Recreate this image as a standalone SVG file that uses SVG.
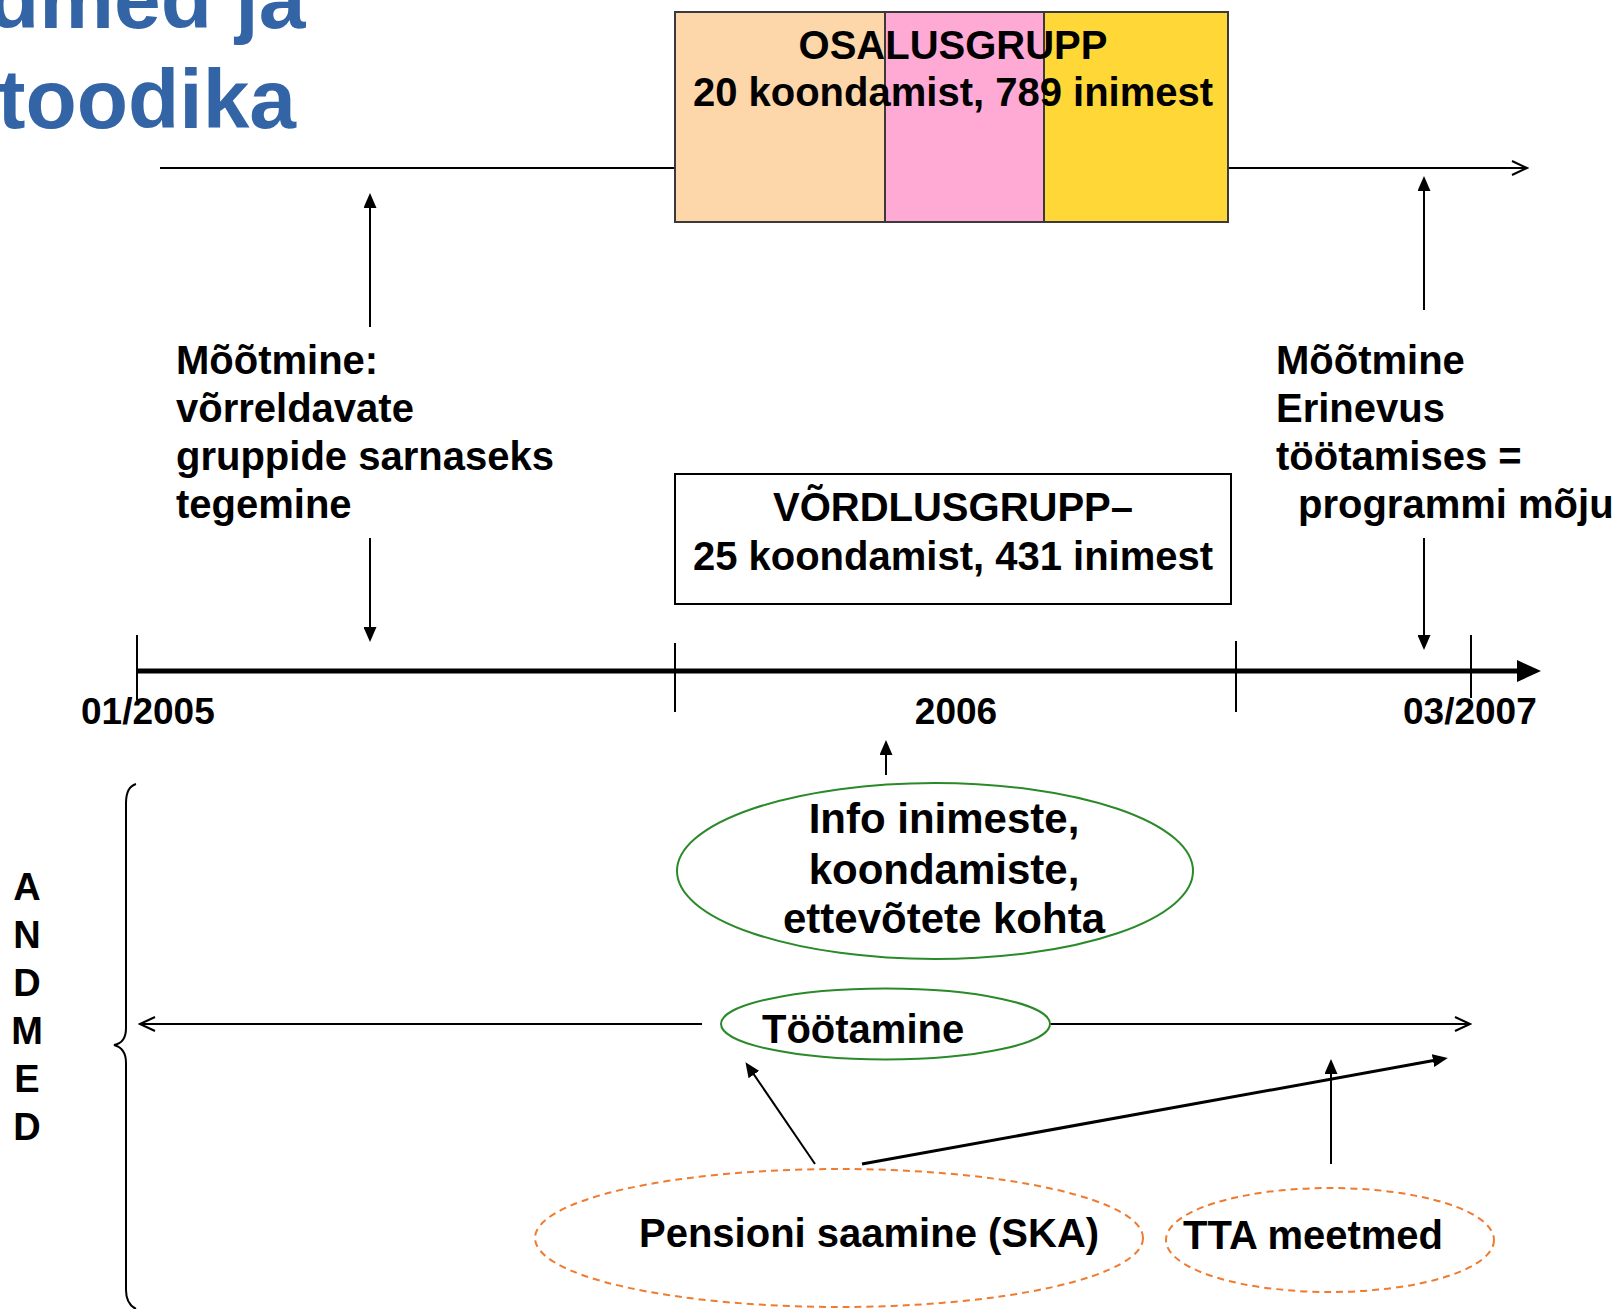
<svg xmlns="http://www.w3.org/2000/svg" width="1618" height="1309" viewBox="0 0 1618 1309">
<style>
.t{font-family:"Liberation Sans",Arial,sans-serif;font-weight:bold;fill:#000}
.f40{font-size:40px}
.f37{font-size:37px}
.f38{font-size:38px}
.f42{font-size:42px}
.mid{text-anchor:middle}
.title{font-family:"Liberation Sans",Arial,sans-serif;font-weight:bold;font-size:84px;fill:#3264A6}
.ln{stroke:#000;stroke-width:2;fill:none}
.seg{stroke:#3a3a3a;stroke-width:2}
.green{fill:none;stroke:#2A8A2A;stroke-width:2}
.orange{fill:none;stroke:#F07A2E;stroke-width:2;stroke-dasharray:7 5}
</style>
<defs>
<marker id="fa" viewBox="0 0 15 13" refX="2" refY="6.5" markerWidth="15" markerHeight="13" markerUnits="userSpaceOnUse" orient="auto">
<path d="M0,0 L15,6.5 L0,13 z" fill="#000"/>
</marker>
<marker id="big" viewBox="0 0 24 22" refX="4" refY="11" markerWidth="24" markerHeight="22" markerUnits="userSpaceOnUse" orient="auto">
<path d="M0,0 L24,11 L0,22 z" fill="#000"/>
</marker>
<marker id="open" viewBox="0 0 18 16" refX="16" refY="8" markerWidth="18" markerHeight="16" markerUnits="userSpaceOnUse" orient="auto">
<path d="M1,1 L16,8 L1,15" fill="none" stroke="#000" stroke-width="2"/>
</marker>
</defs>

<g id="title">
<text class="title" x="-124" y="28">Andmed ja</text>
<text class="title" x="-124" y="128">metoodika</text>
</g>

<g id="connectors">
<line class="ln" x1="160" y1="168" x2="1527" y2="168" marker-end="url(#open)"/>
<line class="ln" x1="370" y1="327" x2="370" y2="206" marker-end="url(#fa)"/>
<line class="ln" x1="370" y1="538" x2="370" y2="629" marker-end="url(#fa)"/>
<line class="ln" x1="1424" y1="310" x2="1424" y2="189" marker-end="url(#fa)"/>
<line class="ln" x1="1424" y1="538" x2="1424" y2="637" marker-end="url(#fa)"/>
<line stroke="#000" stroke-width="5" x1="137" y1="671" x2="1521" y2="671" marker-end="url(#big)"/>
<line class="ln" x1="137" y1="635" x2="137" y2="700"/>
<line class="ln" x1="675" y1="643" x2="675" y2="712"/>
<line class="ln" x1="1236" y1="641" x2="1236" y2="712"/>
<line class="ln" x1="1471" y1="635" x2="1471" y2="698"/>
<line class="ln" x1="886" y1="775" x2="886" y2="753" marker-end="url(#fa)"/>
<line class="ln" x1="702" y1="1024" x2="140" y2="1024" marker-end="url(#open)"/>
<line class="ln" x1="1050" y1="1024" x2="1470" y2="1024" marker-end="url(#open)"/>
<line class="ln" x1="815" y1="1164" x2="752.8" y2="1072.9" marker-end="url(#fa)"/>
<line stroke="#000" stroke-width="3" x1="862" y1="1164" x2="1435" y2="1060.3" marker-end="url(#fa)"/>
<line class="ln" x1="1331" y1="1164" x2="1331" y2="1072" marker-end="url(#fa)"/>
<path class="ln" d="M136,784 Q126,787 126,803 L126,1028 Q126,1043 114,1045 Q126,1048 126,1063 L126,1290 Q126,1304 136,1309"/>
</g>

<g id="osalusgrupp">
<rect x="675" y="12" width="210" height="210" fill="#FDD6AA" class="seg"/>
<rect x="885" y="12" width="159" height="210" fill="#FFAAD5" class="seg"/>
<rect x="1044" y="12" width="184" height="210" fill="#FFD838" class="seg"/>
<text class="t f40 mid" x="953" y="59">OSALUSGRUPP</text>
<text class="t f40 mid" x="953" y="106">20 koondamist, 789 inimest</text>
</g>

<g id="moot-left">
<text class="t f40" x="176" y="374">Mõõtmine:</text>
<text class="t f40" x="176" y="422">võrreldavate</text>
<text class="t f40" x="176" y="470">gruppide sarnaseks</text>
<text class="t f40" x="176" y="518">tegemine</text>
</g>

<g id="moot-right">
<text class="t f40" x="1276" y="374">Mõõtmine</text>
<text class="t f40" x="1276" y="422">Erinevus</text>
<text class="t f40" x="1276" y="470">töötamises =</text>
<text class="t f40" x="1298" y="518">programmi mõju</text>
</g>

<g id="vordlusgrupp">
<rect x="675" y="474" width="556" height="130" fill="#fff" stroke="#000" stroke-width="2"/>
<text class="t f40 mid" x="953" y="521">VÕRDLUSGRUPP–</text>
<text class="t f40 mid" x="953" y="570">25 koondamist, 431 inimest</text>
</g>

<g id="timeline-labels">
<text class="t f37" x="81" y="724">01/2005</text>
<text class="t f37 mid" x="956" y="724">2006</text>
<text class="t f37" x="1403" y="724">03/2007</text>
</g>

<g id="info">
<ellipse class="green" cx="935" cy="871" rx="258" ry="88"/>
<text class="t f42 mid" x="944" y="833">Info inimeste,</text>
<text class="t f42 mid" x="944" y="884">koondamiste,</text>
<text class="t f42 mid" x="944" y="933">ettevõtete kohta</text>
</g>

<g id="tootamine">
<ellipse class="green" cx="885.5" cy="1024" rx="164.5" ry="35.5"/>
<text class="t f40" x="762" y="1043">Töötamine</text>
</g>

<g id="andmed">
<text class="t f38 mid" x="27" y="900">A</text>
<text class="t f38 mid" x="27" y="948">N</text>
<text class="t f38 mid" x="27" y="996">D</text>
<text class="t f38 mid" x="27" y="1044">M</text>
<text class="t f38 mid" x="27" y="1092">E</text>
<text class="t f38 mid" x="27" y="1140">D</text>
</g>

<g id="pension">
<ellipse class="orange" cx="839" cy="1238" rx="304" ry="69"/>
<text class="t f40" x="639" y="1247">Pensioni saamine (SKA)</text>
</g>

<g id="tta">
<ellipse class="orange" cx="1330" cy="1240" rx="164" ry="52"/>
<text class="t f40" x="1183" y="1249">TTA meetmed</text>
</g>
</svg>
